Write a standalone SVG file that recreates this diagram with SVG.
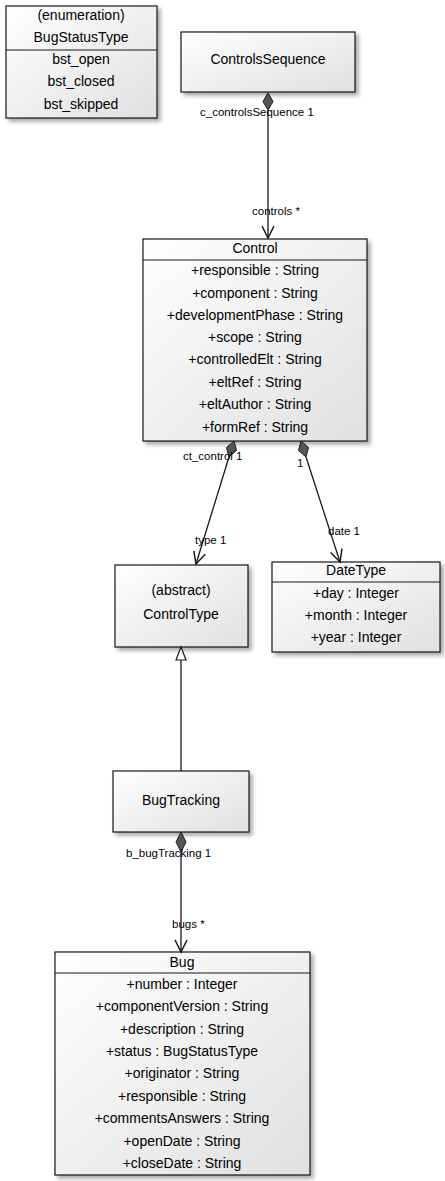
<svg xmlns="http://www.w3.org/2000/svg" width="445" height="1181" viewBox="0 0 445 1181">
<defs>
<linearGradient id="g" x1="0" y1="0" x2="1" y2="1">
<stop offset="0" stop-color="#ffffff"/>
<stop offset="1" stop-color="#e0e0e0"/>
</linearGradient>
<filter id="sh" x="-10%" y="-10%" width="130%" height="130%">
<feGaussianBlur in="SourceAlpha" stdDeviation="2"/>
<feOffset dx="3" dy="3" result="b"/>
<feComponentTransfer><feFuncA type="linear" slope="0.35"/></feComponentTransfer>
<feMerge><feMergeNode/><feMergeNode in="SourceGraphic"/></feMerge>
</filter>
<marker id="arr" markerWidth="16" markerHeight="16" refX="13" refY="7" orient="auto" markerUnits="userSpaceOnUse">
<path d="M1,1 L13,7 L1,13" fill="none" stroke="#181818" stroke-width="1.5"/>
</marker>
</defs>
<style>
.box{fill:url(#g);stroke:#181818;stroke-width:1.2;filter:url(#sh)}
.sep{stroke:#181818;stroke-width:1.2}
text{font-family:"Liberation Sans",Arial,sans-serif;fill:#000}
.t{font-size:14px;text-anchor:middle;dominant-baseline:central}
.l{font-size:11.5px;dominant-baseline:central}
.ln{stroke:#181818;stroke-width:1.3;fill:none}
.dia{fill:#555555;stroke:#181818;stroke-width:1}
.tri{fill:#ffffff;stroke:#181818;stroke-width:1.2}
</style>

<g id="BugStatusType">
<rect class="box" x="6" y="6" width="151" height="112"/>
<text class="t" x="81" y="15">(enumeration)</text>
<text class="t" x="81" y="37">BugStatusType</text>
<line class="sep" x1="6" y1="50" x2="157" y2="50"/>
<text class="t" x="81" y="59">bst_open</text>
<text class="t" x="81" y="81">bst_closed</text>
<text class="t" x="81" y="104">bst_skipped</text>
</g>

<g id="ControlsSequence">
<rect class="box" x="181" y="32" width="174" height="60"/>
<text class="t" x="268" y="59">ControlsSequence</text>
</g>

<g id="Control">
<rect class="box" x="143" y="239" width="224" height="202"/>
<text class="t" x="255" y="248">Control</text>
<line class="sep" x1="143" y1="260" x2="367" y2="260"/>
<text class="t" x="255" y="270">+responsible : String</text>
<text class="t" x="255" y="293">+component : String</text>
<text class="t" x="255" y="315">+developmentPhase : String</text>
<text class="t" x="255" y="337">+scope : String</text>
<text class="t" x="255" y="359">+controlledElt : String</text>
<text class="t" x="255" y="382">+eltRef : String</text>
<text class="t" x="255" y="404">+eltAuthor : String</text>
<text class="t" x="255" y="427">+formRef : String</text>
</g>

<g id="ControlType">
<rect class="box" x="115" y="565" width="133" height="82"/>
<text class="t" x="181" y="590">(abstract)</text>
<text class="t" x="181" y="614">ControlType</text>
</g>

<g id="DateType">
<rect class="box" x="272" y="562" width="168" height="90"/>
<text class="t" x="356" y="570">DateType</text>
<line class="sep" x1="272" y1="582" x2="440" y2="582"/>
<text class="t" x="356" y="593">+day : Integer</text>
<text class="t" x="356" y="615">+month : Integer</text>
<text class="t" x="356" y="637">+year : Integer</text>
</g>

<g id="BugTracking">
<rect class="box" x="113" y="771" width="136" height="61"/>
<text class="t" x="181" y="800">BugTracking</text>
</g>

<g id="Bug">
<rect class="box" x="55" y="952" width="255" height="223"/>
<text class="t" x="182" y="962">Bug</text>
<line class="sep" x1="55" y1="973" x2="310" y2="973"/>
<text class="t" x="182" y="984">+number : Integer</text>
<text class="t" x="182" y="1006">+componentVersion : String</text>
<text class="t" x="182" y="1029">+description : String</text>
<text class="t" x="182" y="1051">+status : BugStatusType</text>
<text class="t" x="182" y="1073">+originator : String</text>
<text class="t" x="182" y="1096">+responsible : String</text>
<text class="t" x="182" y="1118">+commentsAnswers : String</text>
<text class="t" x="182" y="1141">+openDate : String</text>
<text class="t" x="182" y="1163">+closeDate : String</text>
</g>

<g id="connectors">
<line class="ln" x1="268" y1="110" x2="268" y2="238" marker-end="url(#arr)"/>
<path class="dia" d="M268,93 L273,101.5 L268,110 L263,101.5 Z"/>
<text class="l" x="200" y="112">c_controlsSequence 1</text>
<text class="l" x="252" y="211">controls *</text>

<line class="ln" x1="229" y1="457" x2="196" y2="564" marker-end="url(#arr)"/>
<path class="dia" d="M234,441 L236.5,450.5 L229,457 L226.5,447.5 Z"/>
<text class="l" x="183" y="456">ct_control 1</text>
<text class="l" x="195" y="540">type 1</text>

<line class="ln" x1="306" y1="457" x2="340" y2="562" marker-end="url(#arr)"/>
<path class="dia" d="M301,441 L308.5,447.5 L306,457 L298.5,450.5 Z"/>
<text class="l" x="297" y="463">1</text>
<text class="l" x="328" y="531">date 1</text>

<line class="ln" x1="181" y1="660" x2="181" y2="771"/>
<path class="tri" d="M181,647 L186,660 L176,660 Z"/>

<line class="ln" x1="181" y1="852" x2="181" y2="952" marker-end="url(#arr)"/>
<path class="dia" d="M181,832 L186,842 L181,852 L176,842 Z"/>
<text class="l" x="126" y="853">b_bugTracking 1</text>
<text class="l" x="172" y="924">bugs *</text>
</g>
</svg>
